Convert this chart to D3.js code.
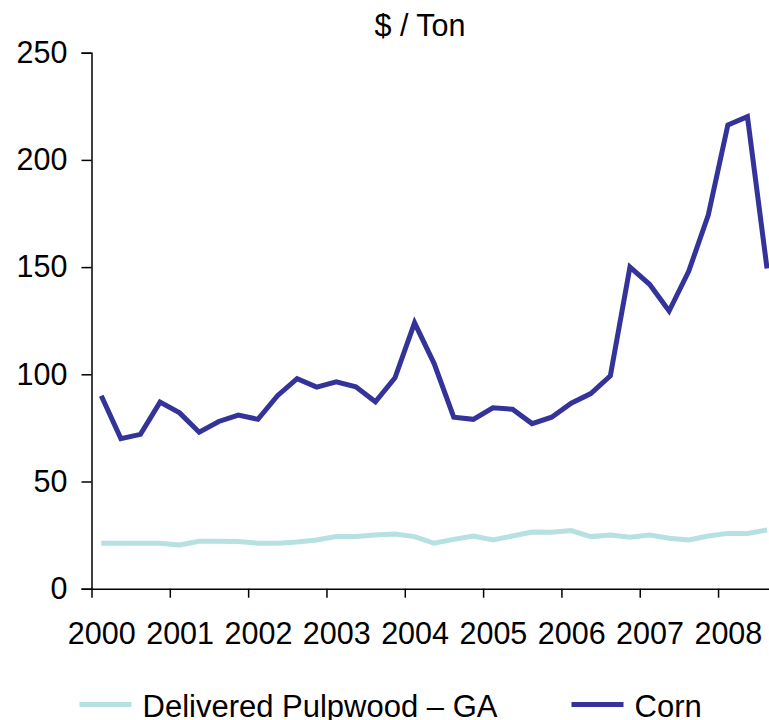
<!DOCTYPE html>
<html>
<head>
<meta charset="utf-8">
<script src="https://cdn.jsdelivr.net/npm/d3@7"></script>
<style>
  html, body { margin: 0; padding: 0; background: #fff; }
  svg { display: block; }
  text { font-family: "Liberation Sans", Arial, sans-serif; fill: #000; }
</style>
</head>
<body>
<script>
const years = ["2000","2001","2002","2003","2004","2005","2006","2007","2008"];
const yTicks = [0, 50, 100, 150, 200, 250];
const seriesNames = ["Delivered Pulpwood \u2013 GA", "Corn"];
const seriesColors = ["#b7e0e2", "#333399"];
// quarterly values, Q1 2000 .. Q3 2008
const pulpwood = [21.2,21.2,21.2,21.2,20.4,22.1,22.1,22.0,21.2,21.2,21.8,22.7,
                  24.3,24.3,25.0,25.5,24.3,21.2,23.0,24.6,22.7,24.6,26.4,26.3,
                  27.1,24.3,25.0,24.0,25.0,23.5,22.7,24.6,25.8,25.8,27.4];
const corn = [90,70,72,87,82,73,78,81,79,90,98,94,
              96.5,94.2,87.2,98.4,124,105,80,79,84.4,83.7,77,80,
              86.5,91,99.3,150,142,129.5,148,174.3,216.3,220.2,149.4];

const W = 769, H = 720;
const svg = d3.select("body").append("svg").attr("width", W).attr("height", H);

const nQ = 36;
const x = d3.scaleLinear().domain([0, nQ]).range([91.5, 91.5 + nQ * 19.58]);
const y = d3.scaleLinear().domain([0, 250]).range([588.7, 52.7]);

// title
svg.append("text").attr("x", 420).attr("y", 36).attr("text-anchor", "middle")
  .style("font-size", "30.5px").text("$ / Ton");

// y axis
const yAxis = svg.append("g").attr("transform", `translate(${x(0)},0)`)
  .call(d3.axisLeft(y).tickValues(yTicks).tickSize(10).tickPadding(14).tickFormat(d3.format("d")));
yAxis.select(".domain").attr("stroke", "#000").attr("stroke-width", 1.5);
yAxis.selectAll(".tick line").attr("stroke", "#000").attr("stroke-width", 1.5);
yAxis.selectAll(".tick text").style("font-size", "30.5px").style("font-family", "Liberation Sans, Arial, sans-serif").attr("fill", "#000");

// x axis tick marks (between categories)
const xAxis = svg.append("g").attr("transform", `translate(0,${y(0)})`)
  .call(d3.axisBottom(x).tickValues(d3.range(0, nQ + 1, 4)).tickSize(9).tickSizeOuter(0).tickFormat(""));
xAxis.select(".domain").attr("stroke", "#000").attr("stroke-width", 1.5);
xAxis.selectAll(".tick line").attr("stroke", "#000").attr("stroke-width", 1.5);

// x labels centered on first quarter of each year
const xLab = svg.append("g").attr("transform", `translate(0,${y(0)})`)
  .call(d3.axisBottom(x).tickValues(years.map((_, i) => i * 4 + 0.5)).tickSize(0).tickPadding(34)
    .tickFormat((d, i) => years[i]));
xLab.select(".domain").remove();
xLab.selectAll(".tick text").style("font-size", "30.5px").style("font-family", "Liberation Sans, Arial, sans-serif").attr("fill", "#000");

// lines
const line = d3.line().x((d, i) => x(i + 0.5)).y(d => y(d));
[pulpwood, corn].forEach((s, k) => {
  svg.append("path").datum(s).attr("d", line)
    .attr("fill", "none").attr("stroke", seriesColors[k])
    .attr("stroke-width", 5).attr("stroke-linejoin", "miter").attr("stroke-linecap", "butt");
});

// legend
const legX = [79.5, 571.5];
seriesNames.forEach((n, k) => {
  const g = svg.append("g").attr("transform", `translate(${legX[k]},704.5)`);
  g.append("line").attr("x1", 0).attr("x2", 52).attr("y1", 0).attr("y2", 0)
    .attr("stroke", seriesColors[k]).attr("stroke-width", 5);
  g.append("text").attr("x", 63).attr("y", 12.5).style("font-size", "31px").text(n);
});
</script>
</body>
</html>
